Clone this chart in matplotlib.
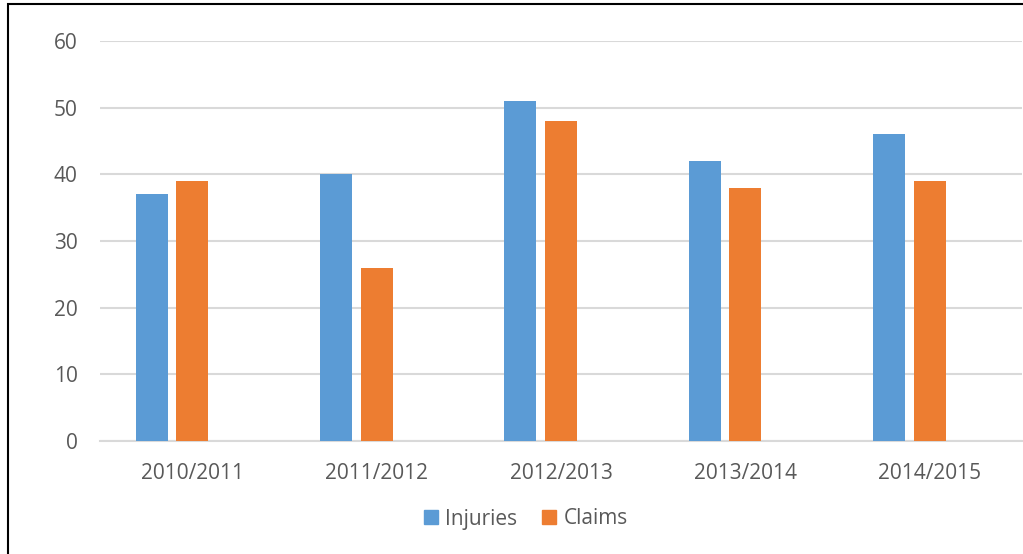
import matplotlib.pyplot as plt
import numpy as np
from matplotlib.patches import Rectangle, Patch

seasons = ['2010/2011', '2011/2012', '2012/2013', '2013/2014', '2014/2015']
injuries = [37, 40, 51, 42, 46]
claims = [39, 26, 48, 38, 39]

blue = '#5B9BD5'
orange = '#ED7D31'
grey_text = '#595959'

plt.rcParams['font.family'] = ['Open Sans', 'DejaVu Sans']

fig = plt.figure(figsize=(10.23, 5.54), dpi=100)
ax = fig.add_axes([100 / 1023, 113 / 554, 922 / 1023, 400 / 554])

x = np.arange(len(seasons))
width = 0.173
step = 0.22
# Excel layout: group of 3 slots (third empty), so bars sit left of the label
ax.bar(x - step, injuries, width, color=blue, label='Injuries', zorder=3)
ax.bar(x, claims, width, color=orange, label='Claims', zorder=3)

ax.set_xlim(-0.5, len(seasons) - 0.5)
ax.set_ylim(0, 60)
ax.set_yticks(range(0, 61, 10))
ax.set_xticks(x)
ax.set_xticklabels(seasons)

ax.grid(axis='y', color='#D9D9D9', linewidth=1.5, zorder=0)
for side in ['top', 'right', 'left']:
    ax.spines[side].set_visible(False)
ax.spines['bottom'].set_color('#D9D9D9')
ax.spines['bottom'].set_linewidth(1.5)
ax.tick_params(axis='both', length=0, labelsize=15, colors=grey_text)
ax.tick_params(axis='y', pad=16)
ax.tick_params(axis='x', pad=16)

handles = [Patch(color=blue, label='Injuries'), Patch(color=orange, label='Claims')]
fig.legend(handles=handles, loc='center', bbox_to_anchor=(526 / 1023, 1 - 519 / 554),
           ncol=2, frameon=False, fontsize=15, handlelength=0.65, handleheight=0.65,
           handletextpad=0.35, columnspacing=1.2, labelcolor=grey_text)

# chart frame (cut off on right and bottom in the source)
fig.patches.append(Rectangle((8 / 1023, -0.1), 1.2, 1.1 - 4 / 554,
                             transform=fig.transFigure, fill=False,
                             edgecolor='black', linewidth=1.5))

fig.savefig('out.png', dpi=100)
